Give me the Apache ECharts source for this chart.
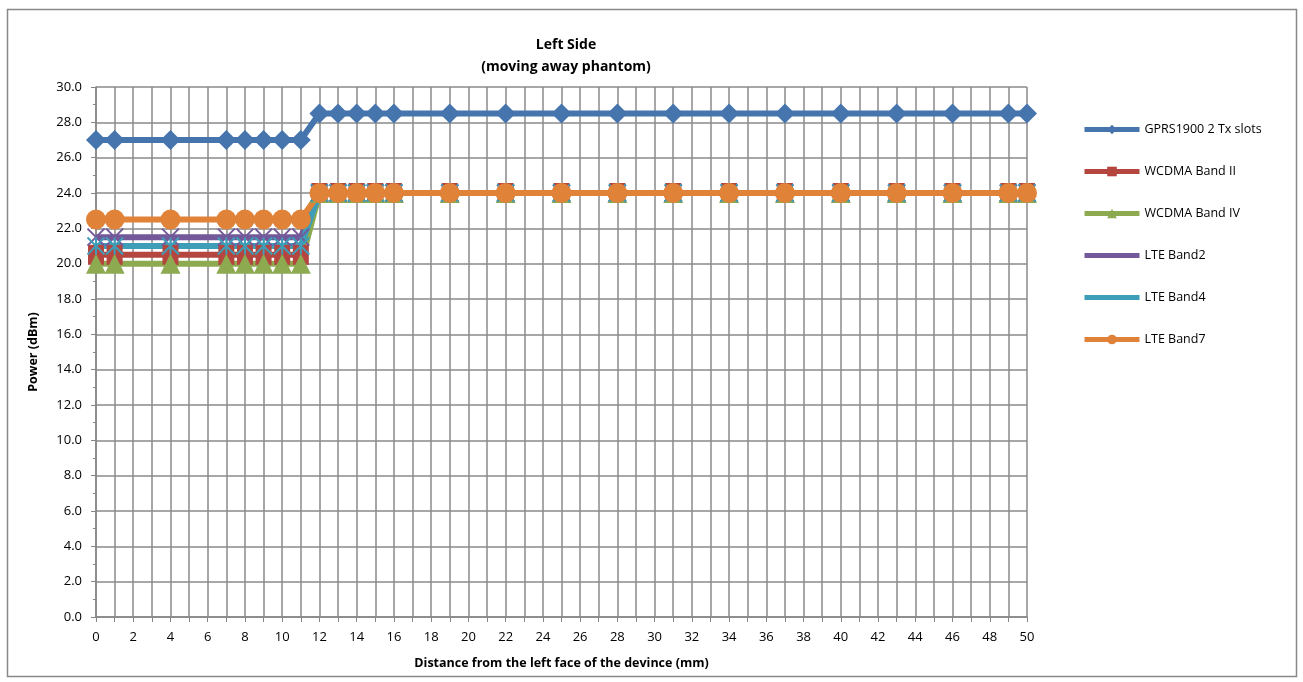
<!DOCTYPE html>
<html><head><meta charset="utf-8">
<script src="https://cdn.jsdelivr.net/npm/echarts@6/dist/echarts.min.js"></script>
<style>html,body{margin:0;padding:0;background:#fff}#c{width:1303px;height:682px}</style>
</head><body><div id="c"></div>
<script>
const distances = [0,1,4,7,8,9,10,11,12,13,14,15,16,19,22,25,28,31,34,37,40,43,46,49,50];
const gprs1900 = [27,27,27,27,27,27,27,27,28.5,28.5,28.5,28.5,28.5,28.5,28.5,28.5,28.5,28.5,28.5,28.5,28.5,28.5,28.5,28.5,28.5];
const wcdmaBand2 = [20.5,20.5,20.5,20.5,20.5,20.5,20.5,20.5,24,24,24,24,24,24,24,24,24,24,24,24,24,24,24,24,24];
const wcdmaBand4 = [20,20,20,20,20,20,20,20,24,24,24,24,24,24,24,24,24,24,24,24,24,24,24,24,24];
const lteBand2 = [21.5,21.5,21.5,21.5,21.5,21.5,21.5,21.5,24,24,24,24,24,24,24,24,24,24,24,24,24,24,24,24,24];
const lteBand4 = [21,21,21,21,21,21,21,21,24,24,24,24,24,24,24,24,24,24,24,24,24,24,24,24,24];
const lteBand7 = [22.5,22.5,22.5,22.5,22.5,22.5,22.5,22.5,24,24,24,24,24,24,24,24,24,24,24,24,24,24,24,24,24];
const seriesNames = ['GPRS1900 2 Tx slots','WCDMA Band II','WCDMA Band IV','LTE Band2','LTE Band4','LTE Band7'];
const seriesValues = [gprs1900, wcdmaBand2, wcdmaBand4, lteBand2, lteBand4, lteBand7];

const colors = ['#4675AE','#B4453F','#8DAA50','#73599A','#3E9EB8','#E08238'];
const FONT = '"Open Sans", "Noto Sans", sans-serif';
const xPath = 'path://M0,0L10,10M10,0L0,10';
const starPath = 'path://M0,0L10,10M10,0L0,10M5,0L5,10';
const symbols = [
  {symbol:'diamond', size:20},
  {symbol:'rect', size:[16,20]},
  {symbol:'triangle', size:20},
  {symbol:xPath, size:17, stroke:true},
  {symbol:starPath, size:17, stroke:true},
  {symbol:'circle', size:20}
];

const series = seriesNames.map((name,i)=>{
  const s = symbols[i];
  return {
    name, type:'line',
    data: distances.map((d,j)=>[d, seriesValues[i][j]]),
    symbol: s.symbol, symbolSize: s.size,
    lineStyle:{color:colors[i], width:6},
    itemStyle: s.stroke ? {color:'rgba(0,0,0,0)', borderColor:colors[i], borderWidth:2} : {color:colors[i]},
    color: colors[i],
    animation:false
  };
});

const chart = echarts.init(document.getElementById('c'));
chart.setOption({
  animation:false,
  color: colors,
  title:{
    text:'Left Side\n(moving away phantom)',
    left: 561, top: 29, textAlign:'center',
    textStyle:{fontFamily:FONT, fontSize:14, fontWeight:'bold', color:'#000', lineHeight:22}
  },
  grid:{left:96, right:276, top:87, bottom:65},
  legend:{
    orient:'vertical', left:1077, top:118, itemGap:29,
    itemWidth:55, itemHeight:12,
    textStyle:{fontFamily:FONT, fontSize:12.5, color:'#000'},
    lineStyle:{width:5},
    data: seriesNames.map((n,i)=>({name:n, itemStyle: symbols[i].stroke?{color:colors[i], borderWidth:0}:undefined}))
  },
  xAxis:{
    type:'value', min:0, max:50, interval:1,
    name:'Distance from the left face of the devince (mm)',
    nameLocation:'middle', nameGap:40,
    nameTextStyle:{fontFamily:FONT, fontSize:12.5, fontWeight:'bold', color:'#000'},
    axisLine:{lineStyle:{color:'#868686', width:1.5}},
    axisTick:{show:true, length:5, lineStyle:{color:'#868686'}},
    axisLabel:{fontFamily:FONT, fontSize:13, color:'#000', margin:14,
      formatter:v=> (v%2===0 ? String(v) : '')},
    splitLine:{show:true, lineStyle:{color:'#8a8a8a', width:1.5}}
  },
  yAxis:{
    type:'value', min:0, max:30, interval:2,
    name:'Power (dBm)', nameLocation:'middle', nameGap:56, nameRotate:90,
    nameTextStyle:{fontFamily:FONT, fontSize:12.5, fontWeight:'bold', color:'#000'},
    axisLine:{show:true, lineStyle:{color:'#868686', width:1.5}},
    axisTick:{show:true, length:5, lineStyle:{color:'#868686'}},
    minorTick:{show:true, splitNumber:2, length:3, lineStyle:{color:'#868686'}},
    axisLabel:{fontFamily:FONT, fontSize:13, color:'#000', margin:14, formatter:v=>v.toFixed(1)},
    splitLine:{show:true, lineStyle:{color:'#8a8a8a', width:1.5}}
  },
  graphic:[{type:'rect', shape:{x:7.5, y:9.5, width:1289, height:667}, style:{fill:'none', stroke:'#888', lineWidth:1.5}, silent:true, z:-1}],
  series
});
</script></body></html>
